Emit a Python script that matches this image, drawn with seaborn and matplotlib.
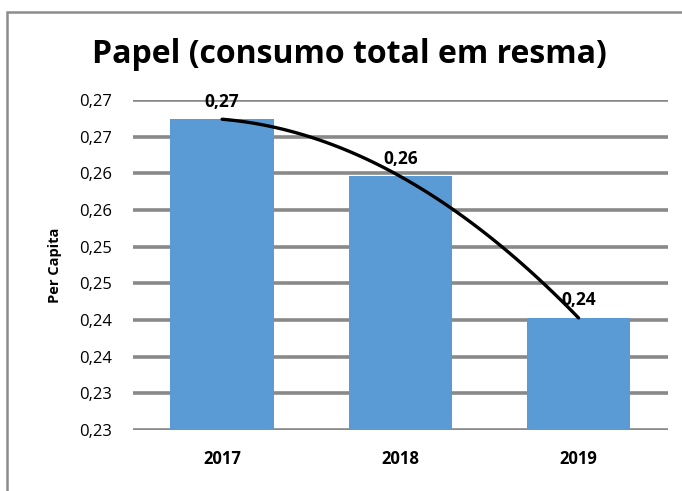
import numpy as np
import matplotlib
matplotlib.use("Agg")
import matplotlib.pyplot as plt
import seaborn as sns
from matplotlib.patches import Rectangle

# ---- data ----
years = ["2017", "2018", "2019"]
per_capita = [0.2674, 0.2596, 0.2403]
ytick_values = [0.225, 0.230, 0.235, 0.240, 0.245, 0.250, 0.255, 0.260, 0.265, 0.270]
ytick_labels = ["0,23", "0,23", "0,24", "0,24", "0,25", "0,25", "0,26", "0,26", "0,27", "0,27"]

sns.set_style("white")
plt.rcParams['font.family'] = ['Open Sans', 'DejaVu Sans']
for k in ["text.color", "axes.labelcolor", "xtick.color", "ytick.color"]:
    plt.rcParams[k] = "black"

fig = plt.figure(figsize=(6.82, 4.91), dpi=100)
ax = fig.add_axes([0.195, 0.124, 0.784, 0.672])

sns.barplot(x=years, y=per_capita, color="#5B9BD5", width=0.58, saturation=1,
            linewidth=0, ax=ax, zorder=3)

# polynomial (2nd order) trend line
xs = np.arange(len(years))
coef = np.polyfit(xs, per_capita, 2)
xx = np.linspace(0, len(years) - 1, 100)
ax.plot(xx, np.polyval(coef, xx), color="black", lw=2.4, zorder=5)

# data labels
for i, v in enumerate(per_capita):
    ax.text(i, v + 0.0024, f"{v:.2f}".replace(".", ","), ha="center", va="center",
            fontsize=12.5, fontweight="bold", zorder=6)

ax.set_ylim(0.225, 0.270)
ax.set_xlim(-0.5, 2.5)
ax.set_yticks(ytick_values)
ax.set_yticklabels(ytick_labels, fontsize=12)
ax.yaxis.grid(True, color="#898989", lw=2.6, zorder=0)
ax.set_axisbelow(True)
ax.tick_params(axis="y", length=0, pad=15)
ax.tick_params(axis="x", length=0, pad=14)
for lab in ax.get_xticklabels():
    lab.set_fontweight("bold")
    lab.set_fontsize(12)
for s in ax.spines.values():
    s.set_visible(False)
ax.set_ylabel("Per Capita", fontsize=10.5, fontweight="bold", labelpad=12)
ax.set_xlabel("")

fig.text(0.513, 0.89, "Papel (consumo total em resma)", ha="center", va="center",
         fontsize=23, fontweight="bold")

# outer chart frame
fig.patches.append(Rectangle((7 / 682, -0.1), 1.2, 1.1 - 12 / 491, transform=fig.transFigure,
                             fill=False, edgecolor="#8C8C8C", lw=1.8))

fig.savefig("out.png", dpi=100)
